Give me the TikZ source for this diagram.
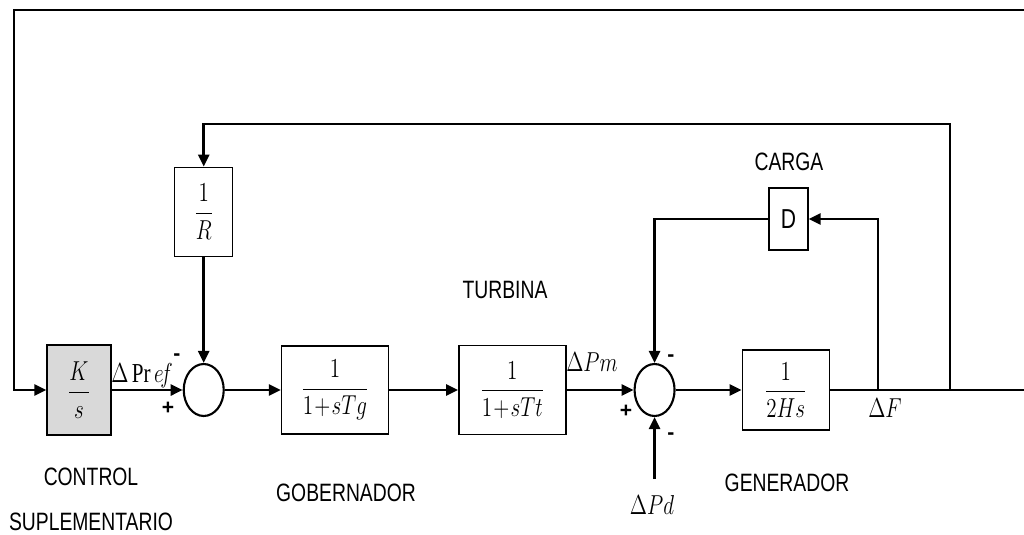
\documentclass[tikz,border=0pt]{standalone}
\usepackage{amsmath}
\usepackage{graphicx}
\usepackage{fontspec}
\setmainfont{Liberation Serif}
\setsansfont{Liberation Sans}
\usetikzlibrary{arrows.meta, positioning, shapes.geometric, calc}
\definecolor{BlockGrey}{HTML}{D9D9D9}
\newcommand{\tall}[1]{\scalebox{1}[1.3]{#1}}
\tikzset{
  % Transfer function block
  block/.style={
    rectangle, draw=black, line width=0.8pt,
    fill=white, inner sep=0pt,
    font=\fontsize{12}{14}\selectfont
  },
  % Integrator block (shaded)
  intblock/.style={
    block, fill=BlockGrey
  },
  % Summing junction
  sumjunc/.style={
    ellipse, draw=black, line width=1.2pt,
    fill=white, inner sep=0pt,
    minimum width=0.8cm, minimum height=1.04cm
  },
  % Signal arrow
  signal/.style={
    -{Triangle[length=0.24cm,width=0.22cm]}, line width=1.5pt
  },
  % Plain wire
  wire/.style={
    line width=1.5pt
  },
  % Block caption
  tag/.style={
    font=\sffamily\fontsize{11}{13}\selectfont, inner sep=0pt
  },
  % Sign at a junction
  sign/.style={
    font=\sffamily\bfseries\fontsize{12}{14}\selectfont, inner sep=0pt
  },
  % Signal name
  siglabel/.style={
    font=\fontsize{12}{14}\selectfont, inner sep=0pt
  }
}

\begin{document}
\begin{tikzpicture}[x=0.02cm, y=-0.02cm]

\useasboundingbox (0,0) rectangle (1024,534);

% Forward path
\node[intblock, minimum width=1.28cm, minimum height=1.8cm] (ks) at (79,390)
  {\tall{$\dfrac{K}{s}$}};

\node[sumjunc, right=1.42cm of ks] (sum1) {};

\node[block, minimum width=2.14cm, minimum height=1.76cm,
      right=1.12cm of sum1] (gov)
  {\tall{$\dfrac{1}{1\!+\!sTg}$}};

\node[block, minimum width=2.14cm, minimum height=1.78cm,
      right=1.38cm of gov] (tur)
  {\tall{$\dfrac{1}{1\!+\!sTt}$}};

\node[sumjunc, right=1.34cm of tur] (sum2) {};

\node[block, minimum width=1.74cm, minimum height=1.6cm,
      right=1.32cm of sum2] (gen)
  {\tall{$\dfrac{1}{2Hs}$}};

% Feedback blocks
\node[block, minimum width=1.16cm, minimum height=1.78cm,
      above=2.12cm of sum1] (rblock)
  {\tall{$\dfrac{1}{R}$}};

\node[block, font=\sffamily\fontsize{12}{14}\selectfont,
      minimum width=0.78cm, minimum height=1.24cm] (dblock) at (788.5,219)
  {\tall{D}};

% Routing points
\coordinate (topL)  at (14,10);
\coordinate (topR)  at (1024,10);
\coordinate (outR)  at (1024,390);
\coordinate (fbR)   at (950,390);
\coordinate (fbTop) at (950,124);
\coordinate (dTap)  at (878,390);
\coordinate (pdIn)  at ($(sum2.south)+(0,62)$);

% Captions
\node[tag] (ctrl_a) at (91,477) {\tall{CONTROL}};
\node[tag] (ctrl_b) at (91,522) {\tall{SUPLEMENTARIO}};
\node[tag] (gov_tag) at (346,493) {\tall{GOBERNADOR}};
\node[tag] (tur_tag) at (505,290) {\tall{TURBINA}};
\node[tag] (load_tag) at (789,162) {\tall{CARGA}};
\node[tag] (gen_tag) at (787,483) {\tall{GENERADOR}};

% Signal names
\node[siglabel] (pref) at (142,376) {\tall{$\Delta\,\mathrm{Pr}\,e\!f$}};
\node[siglabel] (pm) at (592,362) {\tall{$\Delta Pm$}};
\node[siglabel] (pd) at (652,505) {\tall{$\Delta Pd$}};
\node[siglabel] (df) at (885,408) {\tall{$\Delta F$}};

% Signs
\node[sign] (s1_minus) at (177,357) {-};
\node[sign] (s1_plus)  at (168,408) {+};
\node[sign] (s2_minus) at (671,358) {-};
\node[sign] (s2_plus)  at (626,411) {+};
\node[sign] (s2_dist)  at (671,436) {-};

% Arrows
\draw[signal] (topR) -- (topL) |- (ks.west);
\draw[signal] (ks)   -- (sum1);
\draw[signal] (sum1) -- (gov);
\draw[signal] (gov)  -- (tur);
\draw[signal] (tur)  -- (sum2);
\draw[signal] (sum2) -- (gen);
\draw[wire]   (gen)  -- (outR);
\draw[signal] (fbR) -- (fbTop) -| (rblock.north);
\draw[signal] (rblock) -- (sum1);
\draw[signal] (dTap) |- (dblock.east);
\draw[signal] (dblock.west) -| (sum2.north);
\draw[signal] (pdIn) -- (sum2);

\end{tikzpicture}
\end{document}
